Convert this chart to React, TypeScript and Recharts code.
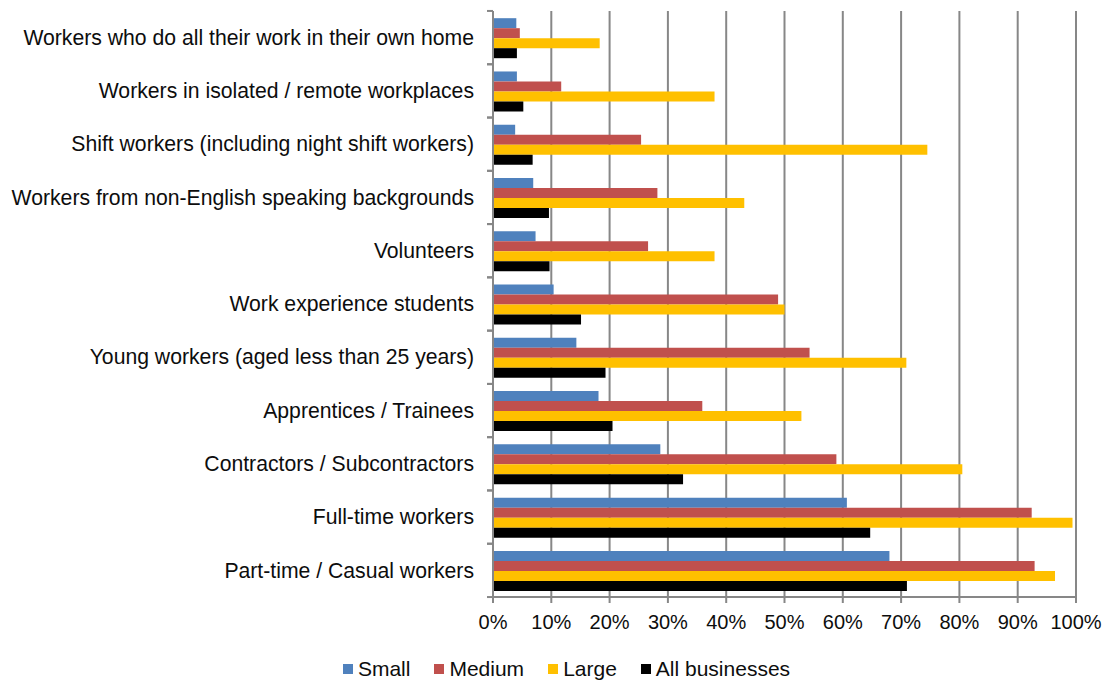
import {
  BarChart,
  Bar,
  XAxis,
  YAxis,
  CartesianGrid,
  Legend,
} from "recharts";

// categories, top to bottom
const categories = [
  "Workers who do all their work in their own home",
  "Workers in isolated / remote workplaces",
  "Shift workers (including night shift workers)",
  "Workers from non-English speaking backgrounds",
  "Volunteers",
  "Work experience students",
  "Young workers (aged less than 25 years)",
  "Apprentices / Trainees",
  "Contractors / Subcontractors",
  "Full-time workers",
  "Part-time / Casual workers",
];

// percent of businesses
const small = [4.0, 4.1, 3.8, 6.9, 7.3, 10.4, 14.3, 18.1, 28.7, 60.7, 68.0];
const medium = [4.6, 11.7, 25.4, 28.2, 26.6, 48.9, 54.3, 35.9, 58.9, 92.4, 92.9];
const large = [18.3, 38.0, 74.5, 43.1, 38.0, 50.0, 70.9, 52.9, 80.5, 99.4, 96.4];
const allBusinesses = [4.1, 5.2, 6.8, 9.6, 9.7, 15.1, 19.3, 20.5, 32.6, 64.7, 71.0];

const xTicks = [0, 10, 20, 30, 40, 50, 60, 70, 80, 90, 100];

const series = [
  { key: "small", name: "Small", color: "#4F81BD" },
  { key: "medium", name: "Medium", color: "#C0504D" },
  { key: "large", name: "Large", color: "#FFC000" },
  { key: "all", name: "All businesses", color: "#000000" },
];

const data = categories.map((name, i) => ({
  name,
  small: small[i],
  medium: medium[i],
  large: large[i],
  all: allBusinesses[i],
}));

const WIDTH = 1109;
const HEIGHT = 682;
const PLOT_TOP = 11;
const PLOT_BOTTOM = 598;
const HALF_BAND = (PLOT_BOTTOM - PLOT_TOP) / categories.length / 2;
const GRID = "#878787";
const FONT = "'Liberation Sans', Arial, sans-serif";

// label at band centre, tick marks on the band edges (Excel style)
const CategoryTick = (props: any) => {
  const { x, y, payload } = props;
  const axisX = x + 19;
  return (
    <g>
      <line x1={axisX - 6} x2={axisX} y1={y - HALF_BAND} y2={y - HALF_BAND} stroke={GRID} strokeWidth={2} />
      <line x1={axisX - 6} x2={axisX} y1={y + HALF_BAND} y2={y + HALF_BAND} stroke={GRID} strokeWidth={2} />
      <text x={x} y={y} dy="0.34em" textAnchor="end" fontSize={21.2} fontFamily={FONT} fill="#0d0d0d">
        {payload.value}
      </text>
    </g>
  );
};

const renderLegend = () => (
  <div
    style={{
      display: "flex",
      justifyContent: "center",
      alignItems: "center",
      gap: 24,
      height: 26,
      paddingLeft: 57,
      fontFamily: FONT,
      fontSize: 21,
      color: "#0d0d0d",
    }}
  >
    {series.map((s) => (
      <div key={s.key} style={{ display: "flex", alignItems: "center", gap: 5 }}>
        <span style={{ width: 10, height: 10, backgroundColor: s.color, display: "inline-block" }} />
        <span>{s.name}</span>
      </div>
    ))}
  </div>
);

export default function App() {
  return (
    <div style={{ position: "absolute", left: 0, top: 0, background: "#fff" }}>
      <BarChart
        width={WIDTH}
        height={HEIGHT}
        data={data}
        layout="vertical"
        margin={{ top: PLOT_TOP, right: 33, bottom: 0, left: 0 }}
        barCategoryGap="13.5%"
        barGap={0}
      >
        <CartesianGrid horizontal={false} stroke={GRID} strokeWidth={2} />
        <XAxis
          type="number"
          domain={[0, 100]}
          ticks={xTicks}
          interval={0}
          tickFormatter={(v) => `${v}%`}
          tickSize={6}
          tickMargin={12}
          height={59}
          stroke={GRID}
          strokeWidth={2}
          tick={{ fontSize: 20, fontFamily: FONT, fill: "#0d0d0d" }}
        />
        <XAxis
          xAxisId="top"
          orientation="top"
          type="number"
          domain={[0, 100]}
          height={0}
          tick={false}
          tickLine={false}
          stroke={GRID}
          strokeWidth={2}
        />
        <YAxis
          type="category"
          dataKey="name"
          width={493}
          interval={0}
          tickLine={false}
          tickSize={6}
          tickMargin={13}
          stroke={GRID}
          strokeWidth={2}
          tick={<CategoryTick />}
        />
        <Legend verticalAlign="bottom" content={renderLegend} />
        {series.map((s) => (
          <Bar key={s.key} dataKey={s.key} name={s.name} fill={s.color} isAnimationActive={false} />
        ))}
      </BarChart>
    </div>
  );
}
